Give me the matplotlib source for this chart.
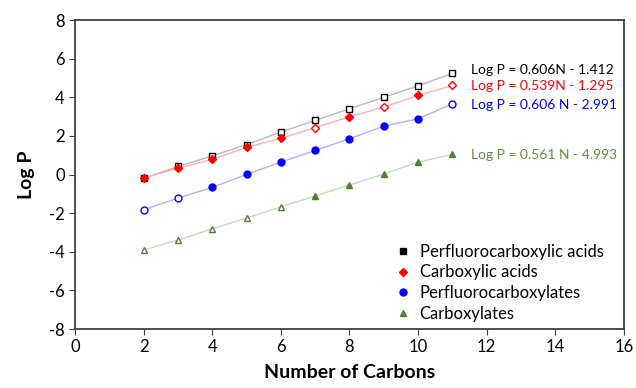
import matplotlib.pyplot as plt
import numpy as np

plt.rcParams['font.family'] = ['Lato', 'DejaVu Sans']
plt.rcParams['axes.unicode_minus'] = False

# Number of carbons
n = np.array([2, 3, 4, 5, 6, 7, 8, 9, 10, 11])

# Log P values
pfca = np.array([-0.20, 0.42, 0.97, 1.55, 2.20, 2.81, 3.41, 4.00, 4.60, 5.25])
ca = np.array([-0.17, 0.32, 0.79, 1.42, 1.88, 2.43, 3.00, 3.50, 4.10, 4.62])
pfc_ate = np.array([-1.82, -1.22, -0.66, 0.01, 0.65, 1.25, 1.86, 2.51, 2.89, 3.67])
c_ate = np.array([-3.91, -3.39, -2.81, -2.25, -1.67, -1.11, -0.54, 0.03, 0.65, 1.05])

# which points are drawn filled
pfca_filled = np.array([1, 0, 0, 0, 0, 0, 0, 0, 0, 0], bool)
ca_filled = np.array([1, 1, 1, 1, 1, 0, 1, 0, 1, 0], bool)
pfc_ate_filled = np.array([0, 0, 1, 1, 1, 1, 1, 1, 1, 0], bool)
c_ate_filled = np.array([0, 0, 0, 0, 0, 1, 1, 1, 1, 1], bool)

labels = ['Perfluorocarboxylic acids', 'Carboxylic acids',
          'Perfluorocarboxylates', 'Carboxylates']
equations = ['Log P = 0.606N - 1.412', 'Log P = 0.539N - 1.295',
             'Log P = 0.606 N - 2.991', 'Log P = 0.561 N - 4.993']
eq_y = [5.41, 4.58, 3.6, 1.0]

series = [pfca, ca, pfc_ate, c_ate]
filled = [pfca_filled, ca_filled, pfc_ate_filled, c_ate_filled]
colors = ['black', '#ff0000', '#0000ff', '#4f7f2f']
linecolors = ['#b8b8b8', '#ffb0b0', '#b0b0ff', '#c6d9b8']
markers = ['s', 'D', 'o', '^']
sizes = [5, 4, 5, 5]
textcolors = ['black', '#ff0000', '#0000ff', '#5f8f3f']

fig = plt.figure(figsize=(6.36, 3.88), dpi=100)
ax = fig.add_axes([0.118, 0.152, 0.863, 0.796])

for y, f, c, lc, m, s, lab in zip(series, filled, colors, linecolors, markers, sizes, labels):
    ax.plot(n, y, '-', color=lc, linewidth=1, zorder=1)
    ax.plot(n[f], y[f], m, color=c, markersize=s, linestyle='none', zorder=3)
    ax.plot(n[~f], y[~f], m, markerfacecolor='white', markeredgecolor=c,
            markersize=s, markeredgewidth=1, linestyle='none', zorder=3)
    ax.plot([], [], m, color=c, markersize=s, linestyle='none', label=lab)

for eq, ey, tc in zip(equations, eq_y, textcolors):
    ax.text(11.55, ey, eq, color=tc, fontsize=10, va='center', ha='left')

ax.set_xlim(0, 16)
ax.set_ylim(-8, 8)
ax.set_xticks(np.arange(0, 17, 2))
ax.set_yticks(np.arange(-8, 9, 2))
ax.tick_params(labelsize=12, direction='out', length=4, color='#404040')
for sp in ax.spines.values():
    sp.set_color('#404040')
    sp.set_linewidth(1.3)

ax.set_xlabel('Number of Carbons', fontsize=14, fontweight='bold', labelpad=6)
ax.set_ylabel('Log P', fontsize=14, fontweight='bold', labelpad=10)

ax.legend(loc='lower right', frameon=False, fontsize=12, handletextpad=0.4,
          handlelength=1.2, labelspacing=0.28, bbox_to_anchor=(0.99, -0.025))

plt.savefig('out.png', dpi=100)
